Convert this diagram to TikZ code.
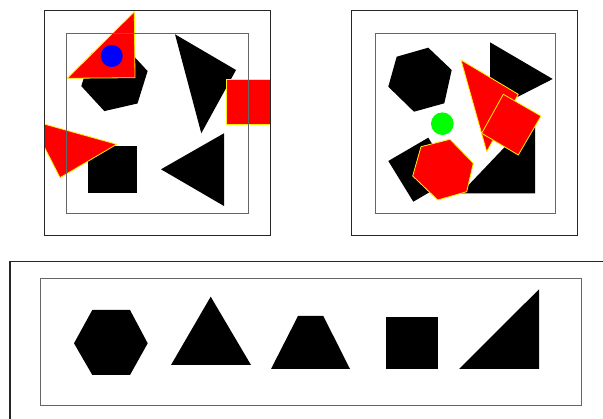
\documentclass[tikz,border=0pt]{standalone}
\begin{document}
\begin{tikzpicture}[x=1pt,y=-1pt,
  blk/.style={fill=black},
  redshape/.style={fill=red,draw=yellow,line width=0.8pt,line join=round},
  outerbox/.style={draw=black!85,line width=1pt},
  innerbox/.style={draw=black!60,line width=1pt}]
\useasboundingbox (0,0) rectangle (603,419);
\fill[white] (0,0) rectangle (603,419);
% ---------- Panel 1 ----------
\begin{scope}
\clip (44,11) rectangle (270,236);
\fill[blk] (137.5,103.5) -- (104.3,111.1) -- (81.3,86.1) -- (91.3,53.6) -- (124.5,46.1) -- (147.6,71.1) -- cycle;
\path[redshape] (67.3,78.3) -- (134.3,11.7) -- (135,77.7) -- cycle;
\fill[blue] (111.7,56) circle (11pt);
\fill[blk] (175,34.3) -- (236,70) -- (201.3,133.3) -- cycle;
\path[redshape] (226,79) rectangle (270.5,124);
\fill[blk] (88.3,145.7) rectangle (136.7,193.3);
\path[redshape] (30.7,120.3) -- (116.7,144.3) -- (60,177.7) -- cycle;
\fill[blk] (161,169.3) -- (224,133.3) -- (224,206) -- cycle;
\end{scope}
\path[outerbox] (44,11) rectangle (270,236);
\path[innerbox] (66.7,34) rectangle (248,214);
% ---------- Panel 2 ----------
\fill[blk] (396.7,56.7) -- (428.3,47.7) -- (451.7,70) -- (444.3,103.3) -- (414,111.7) -- (388.3,86.7) -- cycle;
\fill[blk] (490,42.3) -- (552.7,79) -- (490,111) -- cycle;
\fill[blk] (460.7,193.3) -- (535,193.3) -- (535,115.3) -- cycle;
\fill[blk] (388.3,161) -- (428.3,137.7) -- (453.3,178.3) -- (413.3,201.7) -- cycle;
\path[redshape] (421,146.7) -- (450,139.3) -- (473.3,163.3) -- (466.7,191.7) -- (437.7,200) -- (412.7,176) -- cycle;
\fill[green] (442.3,123.7) circle (11.3pt);
\path[redshape] (461,60) -- (518.3,94.3) -- (486.7,151.7) -- cycle;
\path[redshape] (503.3,94.3) -- (541,116) -- (518.3,155) -- (481.7,133.3) -- cycle;
\path[outerbox] (351.7,11) rectangle (577.3,235.7);
\path[innerbox] (375,34) rectangle (555,214);
% ---------- Bottom panel ----------
\draw[black!85,line width=1.2pt] (603,261.7) -- (10,261.7) -- (10,419);
\path[innerbox] (40,278.3) rectangle (581,406);
\fill[blk] (74,343.3) -- (92.3,310) -- (130,310) -- (147.7,343.3) -- (130,375) -- (92.3,375) -- cycle;
\fill[blk] (171,365) -- (210.7,296.7) -- (251,365) -- cycle;
\fill[blk] (271,369) -- (298,316) -- (323.3,316) -- (350,369) -- cycle;
\fill[blk] (385.7,316.7) rectangle (438.3,369);
\fill[blk] (459,369) -- (539,369) -- (539,289.3) -- cycle;
\end{tikzpicture}
\end{document}
